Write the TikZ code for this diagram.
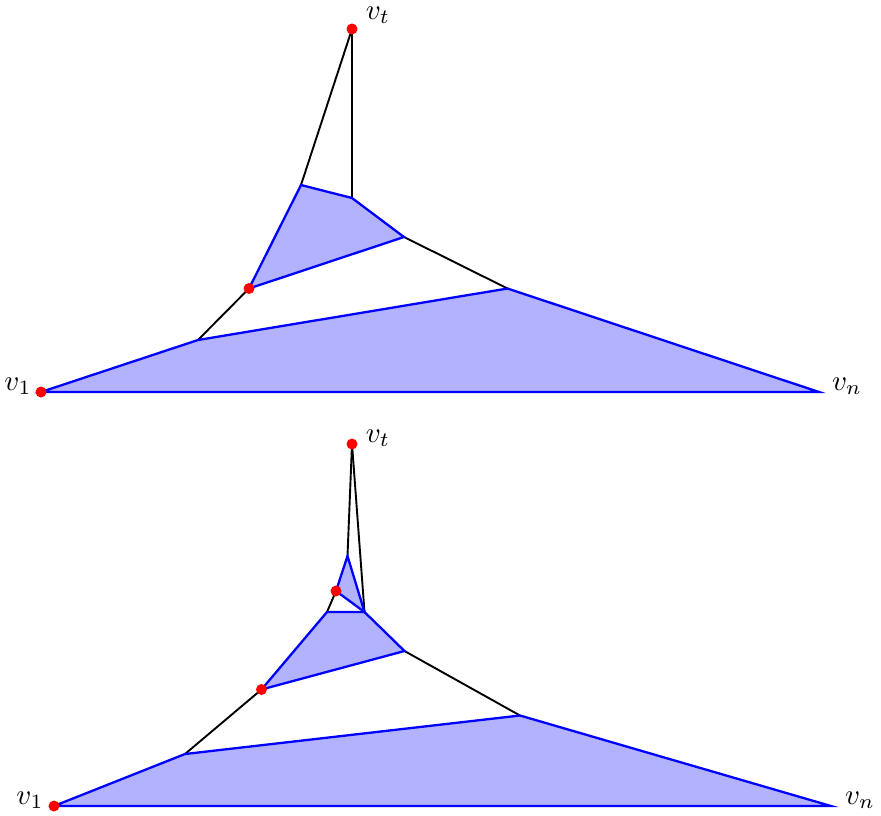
\documentclass[tikz,border=0pt]{standalone}
\begin{document}
\begin{tikzpicture}[x=1pt,y=-1pt,
  face/.style={draw=blue,fill=blue!30,line width=2.3pt,line join=miter},
  edge/.style={draw=black,line width=1.9pt},
  vdot/.style={circle,fill=red,inner sep=0pt,minimum size=11pt},
  lab/.style={inner sep=0pt,scale=2.9}]
\useasboundingbox (0,0) rectangle (881,815);
% ---------- top drawing ----------
\coordinate (a1) at (41,392);
\coordinate (a2) at (198,340);
\coordinate (a3) at (507.5,288.5);
\coordinate (an) at (819,392);
\coordinate (at) at (352,29);
\coordinate (b1) at (249,288.5);
\coordinate (b2) at (301,185);
\coordinate (b3) at (352,198);
\coordinate (b4) at (404,237);
\draw[edge] (at) -- (b2);
\draw[edge] (at) -- (b3);
\draw[edge] (b4) -- (a3);
\draw[edge] (b1) -- (a2);
\draw[face] (a1) -- (a2) -- (a3) -- (an) -- cycle;
\draw[face] (b1) -- (b2) -- (b3) -- (b4) -- cycle;
\node[vdot] (d1) at (a1) {};
\node[vdot] (dt) at (at) {};
\node[vdot] (db) at (b1) {};
\node[lab] (l1) at (18,386) {$v_1$};
\node[lab] (ln) at (847,386) {$v_n$};
\node[lab] (lt) at (378,15.5) {$v_t$};
% ---------- bottom drawing ----------
\coordinate (c1) at (54,806);
\coordinate (c2) at (185,754);
\coordinate (c3) at (520,715.5);
\coordinate (cn) at (831,806);
\coordinate (ct) at (352,444);
\coordinate (e1) at (261.5,689.5);
\coordinate (e2) at (327,612);
\coordinate (e3) at (364.5,612);
\coordinate (e4) at (404.5,651);
\coordinate (f1) at (336,591);
\coordinate (f2) at (347.5,556);
\draw[edge] (ct) -- (f2);
\draw[edge] (ct) -- (e3);
\draw[edge] (f1) -- (e2);
\draw[edge] (e4) -- (c3);
\draw[edge] (e1) -- (c2);
\draw[face] (c1) -- (c2) -- (c3) -- (cn) -- cycle;
\draw[face] (e1) -- (e2) -- (e3) -- (e4) -- cycle;
\draw[face] (f1) -- (f2) -- (e3) -- cycle;
\node[vdot] (g1) at (c1) {};
\node[vdot] (gt) at (ct) {};
\node[vdot] (ge) at (e1) {};
\node[vdot] (gf) at (f1) {};
\node[lab] (m1) at (30,800) {$v_1$};
\node[lab] (mn) at (860,800) {$v_n$};
\node[lab] (mt) at (378,438) {$v_t$};
\end{tikzpicture}
\end{document}
